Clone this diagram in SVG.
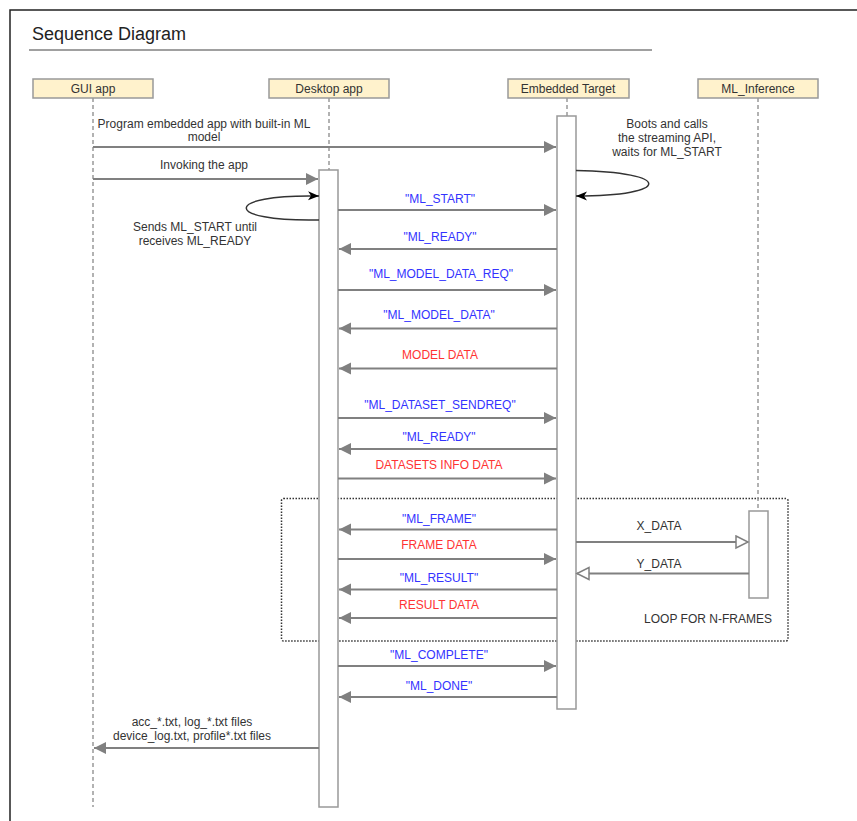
<svg xmlns="http://www.w3.org/2000/svg" width="857" height="821" viewBox="0 0 857 821">
  <style>
    text { font-family: "Liberation Sans", Arial, sans-serif; font-size: 12px; fill: #333333; text-anchor: middle; }
    .title { font-size: 18px; text-anchor: start; fill: #222222; }
    .blue { fill: #3333ff; }
    .red { fill: #ff3333; }
    .actor rect.head { fill: #fff2cc; stroke: #999999; stroke-width: 1.5; }
    .life { stroke: #999999; stroke-width: 1.5; stroke-dasharray: 4 3; fill: none; }
    .actor rect.bar { fill: #ffffff; stroke: #999999; stroke-width: 1.5; }
    .msg { stroke: #808080; stroke-width: 2; fill: none; marker-end: url(#block); }
    .ret { stroke: #808080; stroke-width: 2; fill: none; marker-end: url(#open); }
    .self { stroke: #333333; stroke-width: 1.5; fill: none; marker-end: url(#black); }
  </style>
  <defs>
    <marker id="block" markerUnits="userSpaceOnUse" markerWidth="13" markerHeight="13" refX="12" refY="6.5" orient="auto">
      <path d="M0,0.5 L12,6.5 L0,12.5 Z" fill="#808080"/>
    </marker>
    <marker id="open" markerUnits="userSpaceOnUse" markerWidth="15" markerHeight="15" refX="13" refY="7.5" orient="auto">
      <path d="M1,1.5 L13,7.5 L1,13.5 Z" fill="#ffffff" stroke="#808080" stroke-width="1.5"/>
    </marker>
    <marker id="black" markerUnits="userSpaceOnUse" markerWidth="12" markerHeight="10" refX="11" refY="5" orient="auto">
      <path d="M0,0.5 L11,5 L0,9.5 L3,5 Z" fill="#000000"/>
    </marker>
  </defs>

  <rect width="857" height="821" fill="#ffffff"/>
  <!-- outer frame -->
  <path d="M10,830 L10,10 L870,10" fill="none" stroke="#222222" stroke-width="1.5"/>
  <text class="title" x="32" y="40">Sequence Diagram</text>
  <line x1="29" y1="50" x2="652" y2="50" stroke="#808080" stroke-width="1.5"/>

  <!-- loop fragment -->
  <rect id="loop" x="281.5" y="498.5" width="506.5" height="142.5" rx="2" fill="none" stroke="#333333" stroke-width="1.5" stroke-dasharray="1.5 1.5"/>
  <text x="708" y="623">LOOP FOR N-FRAMES</text>

  <!-- participants -->
  <g id="gui-app" class="actor">
    <line class="life" x1="93" y1="98" x2="93" y2="807"/>
    <rect class="head" x="33" y="79" width="120" height="19"/>
    <text x="93" y="92.5">GUI app</text>
  </g>
  <g id="desktop-app" class="actor">
    <line class="life" x1="329" y1="98" x2="329" y2="170"/>
    <rect class="head" x="269" y="79" width="120" height="19"/>
    <text x="329" y="92.5">Desktop app</text>
    <rect class="bar" x="319" y="170" width="19" height="637"/>
  </g>
  <g id="embedded-target" class="actor">
    <line class="life" x1="567" y1="98" x2="567" y2="116"/>
    <rect class="head" x="508" y="79" width="121" height="19"/>
    <text x="568" y="92.5">Embedded Target</text>
    <rect class="bar" x="557" y="116" width="19" height="593"/>
  </g>
  <g id="ml-inference" class="actor">
    <line class="life" x1="758" y1="98" x2="758" y2="511"/>
    <rect class="head" x="698" y="79" width="120" height="19"/>
    <text x="758" y="92.5">ML_Inference</text>
    <rect class="bar" x="749" y="511" width="19" height="87"/>
  </g>

  <!-- messages -->
  <g id="connectors">
    <line class="msg" x1="93" y1="147" x2="556" y2="147"/>
    <line class="msg" x1="93" y1="179" x2="318" y2="179"/>
    <path class="self" d="M319,220 C222,222 222,194 319,196"/>
    <path class="self" d="M576,170.5 C673,172 673,196 576,196"/>
    <line class="msg" x1="338" y1="210" x2="556" y2="210"/>
    <line class="msg" x1="557" y1="249" x2="339" y2="249"/>
    <line class="msg" x1="338" y1="290" x2="556" y2="290"/>
    <line class="msg" x1="557" y1="328.5" x2="339" y2="328.5"/>
    <line class="msg" x1="557" y1="368.5" x2="339" y2="368.5"/>
    <line class="msg" x1="338" y1="418" x2="556" y2="418"/>
    <line class="msg" x1="557" y1="449" x2="339" y2="449"/>
    <line class="msg" x1="338" y1="478.5" x2="556" y2="478.5"/>
    <line class="msg" x1="557" y1="529.5" x2="339" y2="529.5"/>
    <line class="msg" x1="338" y1="559" x2="556" y2="559"/>
    <line class="msg" x1="557" y1="589.5" x2="339" y2="589.5"/>
    <line class="msg" x1="557" y1="618" x2="339" y2="618"/>
    <line class="ret" x1="576" y1="542" x2="748" y2="542"/>
    <line class="ret" x1="749" y1="573.5" x2="577" y2="573.5"/>
    <line class="msg" x1="338" y1="666" x2="556" y2="666"/>
    <line class="msg" x1="557" y1="697" x2="339" y2="697"/>
    <line class="msg" x1="319" y1="748" x2="94" y2="748"/>
  </g>

  <!-- message labels -->
  <text x="204" y="128">Program embedded app with built-in ML</text>
  <text x="204" y="141">model</text>
  <text x="204" y="169">Invoking the app</text>
  <text x="195" y="231">Sends ML_START until</text>
  <text x="195" y="245">receives ML_READY</text>
  <text x="667" y="128">Boots and calls</text>
  <text x="667" y="142">the streaming API,</text>
  <text x="667" y="156">waits for ML_START</text>
  <text class="blue" x="440" y="203">"ML_START"</text>
  <text class="blue" x="440" y="241">"ML_READY"</text>
  <text class="blue" x="441" y="278">"ML_MODEL_DATA_REQ"</text>
  <text class="blue" x="439" y="319">"ML_MODEL_DATA"</text>
  <text class="red" x="440" y="359">MODEL DATA</text>
  <text class="blue" x="440" y="409">"ML_DATASET_SENDREQ"</text>
  <text class="blue" x="439" y="441">"ML_READY"</text>
  <text class="red" x="439" y="469">DATASETS INFO DATA</text>
  <text class="blue" x="439" y="523">"ML_FRAME"</text>
  <text class="red" x="439" y="549">FRAME DATA</text>
  <text class="blue" x="439" y="582">"ML_RESULT"</text>
  <text class="red" x="439" y="609">RESULT DATA</text>
  <text x="659" y="530">X_DATA</text>
  <text x="659" y="568">Y_DATA</text>
  <text class="blue" x="439" y="659">"ML_COMPLETE"</text>
  <text class="blue" x="439" y="690">"ML_DONE"</text>
  <text x="192" y="726">acc_*.txt, log_*.txt files</text>
  <text x="192" y="740">device_log.txt, profile*.txt files</text>
</svg>
